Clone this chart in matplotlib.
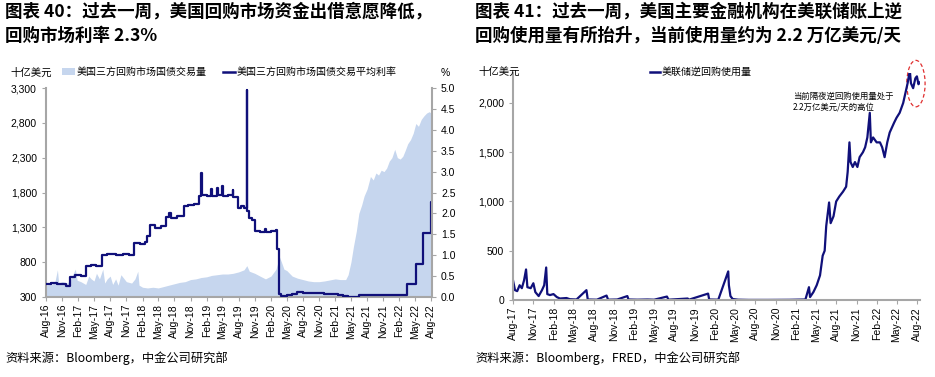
import matplotlib
matplotlib.use("Agg")
import matplotlib.pyplot as plt
import matplotlib.dates as mdates
import pandas as pd
from matplotlib.patches import Ellipse, Patch
from matplotlib.lines import Line2D
from matplotlib.ticker import FuncFormatter

# ------------------------
# Left chart: tri-party repo volume (bn USD) and average rate (%)
# ------------------------
vol_dates = [
    "2016-08-01", "2016-09-01", "2016-09-20", "2016-10-05", "2016-10-12", "2016-11-01",
    "2016-12-01", "2016-12-20", "2017-01-05", "2017-01-15", "2017-01-25", "2017-02-15",
    "2017-03-15", "2017-04-01", "2017-04-15", "2017-05-01", "2017-05-15", "2017-06-01",
    "2017-06-20", "2017-07-01", "2017-07-15", "2017-08-01", "2017-08-15", "2017-09-01",
    "2017-09-15", "2017-10-01", "2017-11-01", "2017-12-01", "2017-12-20", "2018-01-05",
    "2018-01-12", "2018-02-01", "2018-03-01", "2018-04-01", "2018-05-01", "2018-06-01",
    "2018-07-01", "2018-08-01", "2018-09-01", "2018-10-01", "2018-11-01", "2018-12-01",
    "2019-01-01", "2019-02-01", "2019-03-01", "2019-04-01", "2019-05-01", "2019-06-01",
    "2019-07-01", "2019-08-01", "2019-09-01", "2019-09-17", "2019-10-01", "2019-11-01",
    "2019-12-01", "2020-01-01", "2020-02-01", "2020-03-01", "2020-03-20", "2020-04-01",
    "2020-04-15", "2020-05-01", "2020-06-01", "2020-07-01", "2020-08-01", "2020-09-01",
    "2020-10-01", "2020-11-01", "2020-12-01", "2021-01-01", "2021-02-01", "2021-03-01",
    "2021-04-01", "2021-04-15", "2021-05-01", "2021-05-15", "2021-06-01", "2021-06-15",
    "2021-07-01", "2021-07-15", "2021-08-01", "2021-08-20", "2021-09-05", "2021-09-20",
    "2021-10-05", "2021-10-20", "2021-11-05", "2021-11-20", "2021-12-05", "2021-12-20",
    "2022-01-05", "2022-01-20", "2022-02-05", "2022-02-20", "2022-03-05", "2022-03-20",
    "2022-04-05", "2022-04-20", "2022-05-05", "2022-05-20", "2022-06-05", "2022-06-20",
    "2022-07-05", "2022-07-20", "2022-08-05",
]
vol_values = [
    470, 480, 510, 690, 500, 520,
    500, 560, 650, 700, 540, 520,
    480, 600, 560, 530, 640, 560,
    700, 500, 560, 600, 480, 560,
    470, 620, 520, 500, 560, 670,
    470, 440, 430, 440, 430, 450,
    470, 490, 510, 520, 550, 560,
    580, 590, 610, 620, 630, 630,
    640, 660, 690, 750, 670, 640,
    600, 560, 600, 700, 880, 800,
    700, 680, 600, 570, 550, 530,
    520, 520, 530, 545, 560, 550,
    550, 620, 800, 1020, 1250, 1500,
    1620, 1750, 1850, 2030, 1980, 2080,
    2050, 2120, 2100, 2150, 2250, 2300,
    2420, 2300, 2280, 2320, 2400, 2500,
    2560, 2650, 2790, 2750, 2850, 2900,
    2940, 2960, 2930,
]

rate_dates = [
    "2016-08-01", "2016-09-01", "2016-10-01", "2016-11-01", "2016-11-25", "2016-12-15",
    "2017-01-15", "2017-02-15", "2017-03-16", "2017-04-15", "2017-05-15", "2017-06-15",
    "2017-07-15", "2017-09-01", "2017-10-15", "2017-11-15", "2017-12-14", "2018-01-20",
    "2018-02-15", "2018-03-01", "2018-03-15", "2018-04-15", "2018-05-15", "2018-06-14",
    "2018-07-01", "2018-07-15", "2018-08-15", "2018-09-27", "2018-10-20", "2018-11-20",
    "2018-12-20", "2018-12-31", "2019-01-04", "2019-02-01", "2019-02-28", "2019-03-03",
    "2019-04-01", "2019-04-04", "2019-05-01", "2019-05-04", "2019-06-03", "2019-06-28",
    "2019-07-02", "2019-07-31", "2019-08-15", "2019-09-03", "2019-09-16", "2019-09-17",
    "2019-09-19", "2019-10-01", "2019-10-15", "2019-10-31", "2019-12-01", "2019-12-31",
    "2020-01-05", "2020-02-01", "2020-03-01", "2020-03-04", "2020-03-16", "2020-04-01",
    "2020-05-01", "2020-06-01", "2020-07-01", "2020-08-01", "2020-10-01", "2020-12-01",
    "2021-01-15", "2021-02-15", "2021-03-15", "2021-04-15", "2021-06-17", "2022-03-17",
    "2022-05-05", "2022-06-16", "2022-07-28", "2022-08-05",
]
rate_values = [
    0.32, 0.34, 0.31, 0.30, 0.27, 0.49,
    0.52, 0.50, 0.74, 0.77, 0.75, 1.01,
    1.03, 1.01, 1.03, 1.00, 1.28, 1.26,
    1.32, 1.45, 1.72, 1.66, 1.70, 1.92,
    2.00, 1.90, 1.94, 2.18, 2.20, 2.22,
    2.42, 2.97, 2.45, 2.42, 2.58, 2.42,
    2.60, 2.43, 2.66, 2.42, 2.44, 2.55,
    2.40, 2.13, 2.18, 2.12, 2.30, 4.95,
    2.05, 1.90, 1.85, 1.58, 1.55, 1.62,
    1.56, 1.58, 1.60, 1.15, 0.08, 0.02,
    0.05, 0.08, 0.12, 0.10, 0.09, 0.08,
    0.07, 0.04, 0.02, 0.01, 0.05, 0.30,
    0.80, 1.54, 2.28, 2.28,
]

# ------------------------
# Right chart: Fed overnight reverse repo usage (bn USD)
# ------------------------
rrp_dates = [
    "2017-08-01", "2017-08-10", "2017-08-20", "2017-08-31", "2017-09-10", "2017-09-20",
    "2017-09-29", "2017-10-05", "2017-10-20", "2017-11-01", "2017-11-10", "2017-11-25",
    "2017-12-10", "2017-12-20", "2017-12-29", "2018-01-03", "2018-01-15", "2018-01-31",
    "2018-02-15", "2018-03-01", "2018-03-31", "2018-04-15", "2018-05-15", "2018-06-29",
    "2018-07-05", "2018-08-15", "2018-09-28", "2018-10-05", "2018-11-15", "2018-12-31",
    "2019-01-05", "2019-02-15", "2019-04-01", "2019-05-01", "2019-06-28", "2019-07-05",
    "2019-09-30", "2019-10-05", "2019-12-31", "2020-01-05", "2020-02-15", "2020-03-31",
    "2020-04-03", "2020-04-10", "2020-04-20", "2020-05-15", "2020-07-01", "2020-10-01",
    "2021-01-01", "2021-03-15", "2021-03-31", "2021-04-05", "2021-04-20", "2021-05-05",
    "2021-05-20", "2021-06-01", "2021-06-10", "2021-06-17", "2021-06-30", "2021-07-07",
    "2021-07-20", "2021-08-01", "2021-08-15", "2021-09-01", "2021-09-15", "2021-09-22",
    "2021-09-30", "2021-10-05", "2021-10-15", "2021-10-25", "2021-11-05", "2021-11-15",
    "2021-11-30", "2021-12-10", "2021-12-20", "2021-12-31", "2022-01-05", "2022-01-15",
    "2022-01-31", "2022-02-15", "2022-02-25", "2022-03-08", "2022-03-20", "2022-03-31",
    "2022-04-10", "2022-04-20", "2022-05-01", "2022-05-15", "2022-05-31", "2022-06-10",
    "2022-06-20", "2022-06-30", "2022-07-05", "2022-07-15", "2022-07-25", "2022-08-01",
    "2022-08-08", "2022-08-15",
]
rrp_values = [
    200, 100, 90, 150, 120, 200,
    310, 130, 120, 170, 80, 40,
    100, 150, 330, 60, 50, 60,
    30, 15, 20, 8, 5, 100,
    5, 3, 45, 3, 5, 40,
    5, 3, 5, 3, 35, 3,
    15, 3, 65, 5, 3, 290,
    150, 40, 10, 3, 1, 1,
    2, 5, 130, 30, 80, 150,
    250, 450, 500, 750, 990, 780,
    850, 1000, 1050, 1100, 1150, 1300,
    1600, 1400, 1350, 1400, 1350, 1450,
    1500, 1550, 1650, 1900, 1600, 1650,
    1600, 1600, 1550, 1450, 1600, 1700,
    1750, 1800, 1850, 1900, 2000, 2100,
    2200, 2330, 2200, 2150, 2250, 2270,
    2190, 2210,
]

vol_x = pd.to_datetime(vol_dates)
rate_x = pd.to_datetime(rate_dates)
rrp_x = pd.to_datetime(rrp_dates)

NAVY = "#10107a"
AREA = "#c6d6ee"
GREY = "#a6a6a6"
CJK = ["Noto Sans CJK SC", "DejaVu Sans"]

plt.rcParams["font.family"] = ["Liberation Sans", "Noto Sans CJK SC", "DejaVu Sans"]
plt.rcParams["font.size"] = 7.5

fig = plt.figure(figsize=(9.35, 3.77), dpi=100)
W, H = 935, 377


def px_axes(x0, y0, x1, y1):
    return fig.add_axes([x0 / W, 1 - y1 / H, (x1 - x0) / W, (y1 - y0) / H])


def style_axis(ax):
    for s in ["top", "right"]:
        ax.spines[s].set_visible(False)
    for s in ["left", "bottom"]:
        ax.spines[s].set_color(GREY)
        ax.spines[s].set_linewidth(1.5)
    ax.tick_params(axis="both", colors=GREY, labelcolor="black", length=3, width=0.8, labelsize=7.5)
    ax.xaxis.set_major_locator(mdates.MonthLocator(bymonth=[2, 5, 8, 11]))
    ax.xaxis.set_major_formatter(mdates.DateFormatter("%b-%y"))
    for lab in ax.get_xticklabels():
        lab.set_rotation(90)


# ---- left chart ----
ax1 = px_axes(46, 88, 432, 297)
ax1.fill_between(vol_x, 300, vol_values, color=AREA, linewidth=0)
ax1.set_ylim(300, 3300)
ax1.set_yticks([300, 800, 1300, 1800, 2300, 2800, 3300])
ax1.yaxis.set_major_formatter(FuncFormatter(lambda v, p: f"{int(v):,}"))
ax1.set_xlim(pd.Timestamp("2016-08-01"), pd.Timestamp("2022-08-05"))
style_axis(ax1)
ax1.tick_params(axis="x", pad=2)

ax1r = ax1.twinx()
ax1r.plot(rate_x, rate_values, color=NAVY, linewidth=1.6, drawstyle="steps-post")
ax1r.set_ylim(0, 5)
ax1r.set_yticks([0, 0.5, 1, 1.5, 2, 2.5, 3, 3.5, 4, 4.5, 5])
ax1r.yaxis.set_major_formatter(FuncFormatter(lambda v, p: f"{v:.1f}"))
for s in ["top", "left", "bottom"]:
    ax1r.spines[s].set_visible(False)
ax1r.spines["right"].set_color(GREY)
ax1r.spines["right"].set_linewidth(1.5)
ax1r.tick_params(axis="y", colors=GREY, labelcolor="black", length=3, width=0.8, labelsize=7.5)

fig.text(10 / W, 1 - 73 / H, "十亿美元", family=CJK, fontsize=7.5, va="center", ha="left")
fig.text(445 / W, 1 - 73 / H, "%", fontsize=7.5, va="center", ha="center")
fig.legend(
    handles=[Patch(facecolor=AREA, edgecolor="none", label="美国三方回购市场国债交易量"),
             Line2D([], [], color=NAVY, linewidth=1.8, label="美国三方回购市场国债交易平均利率")],
    loc="center left", bbox_to_anchor=(62 / W, 1 - 72 / H), ncol=2, frameon=False,
    prop={"family": CJK, "size": 7.2}, handlelength=1.25, handleheight=0.7,
    handletextpad=0.2, columnspacing=1.6, borderpad=0, borderaxespad=0,
)

# ---- right chart ----
ax2 = px_axes(513, 73.4, 920, 300)
ax2.plot(rrp_x, rrp_values, color=NAVY, linewidth=1.6)
ax2.set_ylim(0, 2300)
ax2.set_yticks([0, 500, 1000, 1500, 2000])
ax2.yaxis.set_major_formatter(FuncFormatter(lambda v, p: f"{int(v):,}"))
ax2.set_xlim(pd.Timestamp("2017-08-01"), pd.Timestamp("2022-08-15"))
style_axis(ax2)
ax2.tick_params(axis="x", pad=2)

fig.text(478 / W, 1 - 72 / H, "十亿美元", family=CJK, fontsize=7.5, va="center", ha="left")
fig.legend(
    handles=[Line2D([], [], color=NAVY, linewidth=1.8, label="美联储逆回购使用量")],
    loc="center left", bbox_to_anchor=(650 / W, 1 - 72 / H), frameon=False,
    prop={"family": CJK, "size": 7.2}, handlelength=1.0, handletextpad=0.2,
    borderpad=0, borderaxespad=0,
)
ax2.text(0.688, 0.875, "当前隔夜逆回购使用量处于\n2.2万亿美元/天的高位", transform=ax2.transAxes,
         family=CJK, fontsize=6, va="center", ha="left", linespacing=1.3)
ax2.add_patch(Ellipse((0.99, 0.955), 0.045, 0.205, transform=ax2.transAxes, fill=False,
                      edgecolor="#e03030", linestyle=(0, (3, 2)), linewidth=0.9, clip_on=False))

# ---- titles and sources ----
fig.text(5 / W, 1 - 3 / H, "图表 40：过去一周，美国回购市场资金出借意愿降低，\n回购市场利率 2.3%",
         family=CJK, fontsize=12.6, fontweight="bold", va="top", ha="left", linespacing=1.45)
fig.text(475 / W, 1 - 3 / H, "图表 41：过去一周，美国主要金融机构在美联储账上逆\n回购使用量有所抬升，当前使用量约为 2.2 万亿美元/天",
         family=CJK, fontsize=12.6, fontweight="bold", va="top", ha="left", linespacing=1.45)
fig.text(5 / W, 1 - 358 / H, "资料来源：Bloomberg，中金公司研究部", family=CJK, fontsize=8.8,
         va="center", ha="left")
fig.text(475 / W, 1 - 358 / H, "资料来源：Bloomberg，FRED，中金公司研究部", family=CJK, fontsize=8.8,
         va="center", ha="left")

fig.savefig("out.png", dpi=100)
